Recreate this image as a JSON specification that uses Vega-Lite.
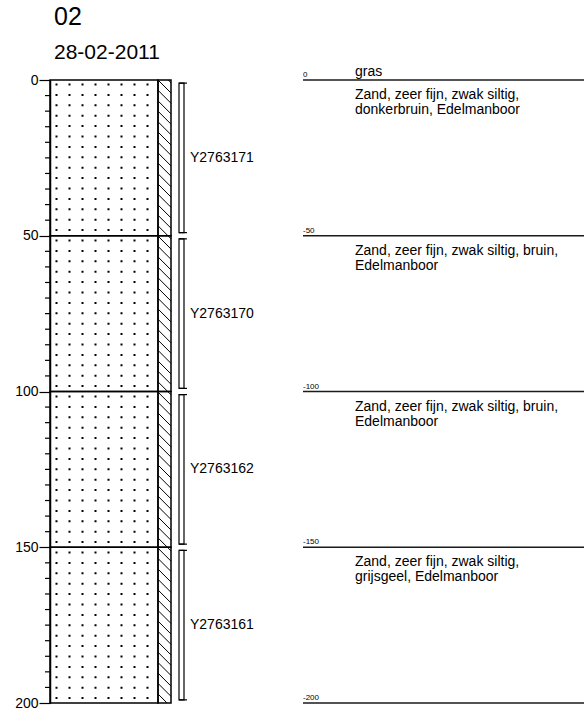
{
  "$schema": "https://vega.github.io/schema/vega-lite/v6.json",
  "width": 534,
  "height": 623,
  "autosize": {"type": "none"},
  "padding": {"left": 50, "top": 80, "right": 0, "bottom": 7},
  "background": "white",
  "title": {
    "text": "02",
    "subtitle": "28-02-2011",
    "anchor": "start",
    "frame": "group",
    "dx": 4,
    "font": "Liberation Sans",
    "fontSize": 25,
    "fontWeight": "normal",
    "color": "black",
    "subtitleFont": "Liberation Sans",
    "subtitleFontSize": 21,
    "subtitleColor": "black",
    "subtitlePadding": 12,
    "offset": 2
  },
  "config": {
    "view": {"stroke": null},
    "font": "Liberation Sans",
    "text": {"font": "Liberation Sans", "color": "black"}
  },
  "datasets": {
    "layers": [
      {"top": 0, "bottom": 50, "lithology": "zand", "desc": "Zand, zeer fijn, zwak siltig,\ndonkerbruin, Edelmanboor"},
      {"top": 50, "bottom": 100, "lithology": "zand", "desc": "Zand, zeer fijn, zwak siltig, bruin,\nEdelmanboor"},
      {"top": 100, "bottom": 150, "lithology": "zand", "desc": "Zand, zeer fijn, zwak siltig, bruin,\nEdelmanboor"},
      {"top": 150, "bottom": 200, "lithology": "zand", "desc": "Zand, zeer fijn, zwak siltig,\ngrijsgeel, Edelmanboor"}
    ],
    "samples": [
      {"id": "Y2763171", "top": 1, "bottom": 49, "mid": 25},
      {"id": "Y2763170", "top": 51, "bottom": 99, "mid": 75},
      {"id": "Y2763162", "top": 101, "bottom": 149, "mid": 125},
      {"id": "Y2763161", "top": 151, "bottom": 199, "mid": 175}
    ],
    "boundaries": [
      {"depth": 0, "label": "0"},
      {"depth": 50, "label": "-50"},
      {"depth": 100, "label": "-100"},
      {"depth": 150, "label": "-150"},
      {"depth": 200, "label": "-200"}
    ],
    "minorTicks": [
      {"depth": 5}, {"depth": 10}, {"depth": 15}, {"depth": 20}, {"depth": 25}, {"depth": 30}, {"depth": 35}, {"depth": 40}, {"depth": 45},
      {"depth": 55}, {"depth": 60}, {"depth": 65}, {"depth": 70}, {"depth": 75}, {"depth": 80}, {"depth": 85}, {"depth": 90}, {"depth": 95},
      {"depth": 105}, {"depth": 110}, {"depth": 115}, {"depth": 120}, {"depth": 125}, {"depth": 130}, {"depth": 135}, {"depth": 140}, {"depth": 145},
      {"depth": 155}, {"depth": 160}, {"depth": 165}, {"depth": 170}, {"depth": 175}, {"depth": 180}, {"depth": 185}, {"depth": 190}, {"depth": 195}
    ],
    "surface": [{"depth": 0, "text": "gras"}],
    "hatch": [
      {"d": -3.3}, {"d": 0}, {"d": 3.3}, {"d": 6.7}, {"d": 10}, {"d": 13.4}, {"d": 16.7}, {"d": 20}, {"d": 23.4}, {"d": 26.7},
      {"d": 30.1}, {"d": 33.4}, {"d": 36.7}, {"d": 40.1}, {"d": 43.4}, {"d": 46.8}, {"d": 50.1}, {"d": 53.4}, {"d": 56.8}, {"d": 60.1},
      {"d": 63.5}, {"d": 66.8}, {"d": 70.1}, {"d": 73.5}, {"d": 76.8}, {"d": 80.2}, {"d": 83.5}, {"d": 86.8}, {"d": 90.2}, {"d": 93.5},
      {"d": 96.9}, {"d": 100.2}, {"d": 103.5}, {"d": 106.9}, {"d": 110.2}, {"d": 113.6}, {"d": 116.9}, {"d": 120.2}, {"d": 123.6}, {"d": 126.9},
      {"d": 130.3}, {"d": 133.6}, {"d": 136.9}, {"d": 140.3}, {"d": 143.6}, {"d": 147}, {"d": 150.3}, {"d": 153.6}, {"d": 157}, {"d": 160.3},
      {"d": 163.7}, {"d": 167}, {"d": 170.3}, {"d": 173.7}, {"d": 177}, {"d": 180.4}, {"d": 183.7}, {"d": 187}, {"d": 190.4}, {"d": 193.7},
      {"d": 197.1}
    ]
  },
  "resolve": {"scale": {"x": "shared", "y": "shared"}},
  "layer": [
    {
      "data": {"name": "layers"},
      "mark": {"type": "rect", "fill": "white", "fillOpacity": 0, "stroke": "black", "strokeWidth": 1.5},
      "encoding": {
        "x": {
          "datum": 0,
          "type": "quantitative",
          "scale": {"domain": [0, 534], "nice": false, "zero": false},
          "axis": {
            "orient": "top",
            "values": [6, 13, 19, 26, 32, 39, 45, 52, 58, 65, 71, 78, 84, 91, 97, 104],
            "grid": true,
            "gridColor": "black",
            "gridOpacity": 1,
            "gridWidth": 2,
            "gridDash": [2, 8.4],
            "gridDashOffset": -3,
            "domain": false,
            "ticks": false,
            "labels": false,
            "title": null
          }
        },
        "x2": {"datum": 108},
        "y": {
          "field": "top",
          "type": "quantitative",
          "title": null,
          "scale": {"domain": [0, 200], "reverse": true, "nice": false, "zero": false},
          "axis": {
            "orient": "left",
            "values": [0, 50, 100, 150, 200],
            "labelOverlap": false,
            "labelBound": false,
            "labelFlush": false,
            "tickSize": 11,
            "tickColor": "black",
            "tickWidth": 1.2,
            "domainColor": "black",
            "domainWidth": 1.5,
            "labelFont": "Liberation Sans",
            "labelFontSize": 14,
            "labelColor": "black",
            "labelPadding": 1,
            "grid": false,
            "title": null
          }
        },
        "y2": {"field": "bottom"}
      }
    },
    {
      "data": {"name": "minorTicks"},
      "mark": {"type": "rule", "stroke": "black", "strokeWidth": 1.2},
      "encoding": {
        "x": {"datum": -5, "type": "quantitative"},
        "x2": {"datum": 0},
        "y": {"field": "depth", "type": "quantitative", "title": null}
      }
    },
    {
      "data": {"name": "layers"},
      "mark": {"type": "rect", "fill": "white", "fillOpacity": 0, "stroke": "black", "strokeWidth": 1.5},
      "encoding": {
        "x": {"datum": 108, "type": "quantitative"},
        "x2": {"datum": 121},
        "y": {"field": "top", "type": "quantitative", "title": null},
        "y2": {"field": "bottom"}
      }
    },
    {
      "data": {"name": "hatch"},
      "mark": {"type": "rule", "clip": true, "stroke": "black", "strokeWidth": 1, "y2Offset": 13},
      "encoding": {
        "x": {"datum": 108, "type": "quantitative"},
        "x2": {"datum": 121},
        "y": {"field": "d", "type": "quantitative", "title": null},
        "y2": {"field": "d"}
      }
    },
    {
      "data": {"name": "samples"},
      "mark": {"type": "rect", "fill": "white", "fillOpacity": 0, "stroke": "black", "strokeWidth": 1.2},
      "encoding": {
        "x": {"datum": 129, "type": "quantitative"},
        "x2": {"datum": 134},
        "y": {"field": "top", "type": "quantitative", "title": null},
        "y2": {"field": "bottom"}
      }
    },
    {
      "data": {"name": "samples"},
      "mark": {"type": "rule", "stroke": "black", "strokeWidth": 1.2},
      "encoding": {
        "x": {"datum": 129, "type": "quantitative"},
        "x2": {"datum": 137},
        "y": {"field": "top", "type": "quantitative", "title": null}
      }
    },
    {
      "data": {"name": "samples"},
      "mark": {"type": "rule", "stroke": "black", "strokeWidth": 1.2},
      "encoding": {
        "x": {"datum": 129, "type": "quantitative"},
        "x2": {"datum": 137},
        "y": {"field": "bottom", "type": "quantitative", "title": null}
      }
    },
    {
      "data": {"name": "samples"},
      "mark": {"type": "text", "align": "left", "baseline": "middle", "fontSize": 14, "font": "Liberation Sans"},
      "encoding": {
        "x": {"datum": 140, "type": "quantitative"},
        "y": {"field": "mid", "type": "quantitative", "title": null},
        "text": {"field": "id"}
      }
    },
    {
      "data": {"name": "boundaries"},
      "mark": {"type": "rule", "stroke": "#1a1a1a", "strokeWidth": 1.3},
      "encoding": {
        "x": {"datum": 253, "type": "quantitative"},
        "x2": {"datum": 534},
        "y": {"field": "depth", "type": "quantitative", "title": null}
      }
    },
    {
      "data": {"name": "boundaries"},
      "mark": {"type": "text", "align": "left", "baseline": "alphabetic", "dy": -3, "fontSize": 8, "font": "Liberation Sans"},
      "encoding": {
        "x": {"datum": 253, "type": "quantitative"},
        "y": {"field": "depth", "type": "quantitative", "title": null},
        "text": {"field": "label"}
      }
    },
    {
      "data": {"name": "surface"},
      "mark": {"type": "text", "align": "left", "baseline": "alphabetic", "dy": -4, "fontSize": 14, "font": "Liberation Sans"},
      "encoding": {
        "x": {"datum": 305, "type": "quantitative"},
        "y": {"field": "depth", "type": "quantitative", "title": null},
        "text": {"field": "text"}
      }
    },
    {
      "data": {"name": "layers"},
      "mark": {"type": "text", "align": "left", "baseline": "top", "dy": 8, "fontSize": 14, "lineHeight": 15, "lineBreak": "\n", "font": "Liberation Sans"},
      "encoding": {
        "x": {"datum": 305, "type": "quantitative"},
        "y": {"field": "top", "type": "quantitative", "title": null},
        "text": {"field": "desc"}
      }
    }
  ]
}
